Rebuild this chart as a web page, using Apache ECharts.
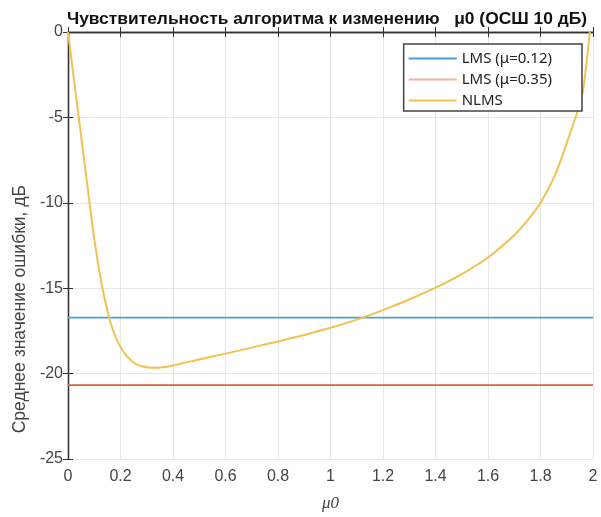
<!DOCTYPE html>
<html><head><meta charset="utf-8">
<script src="https://cdn.jsdelivr.net/npm/echarts@6/dist/echarts.min.js"></script>
<style>html,body{margin:0;padding:0;background:#fff}#c{width:601px;height:517px}</style>
</head><body><div id="c"></div>
<script>
var xTicks = [0, 0.2, 0.4, 0.6, 0.8, 1, 1.2, 1.4, 1.6, 1.8, 2];
var yTicks = [-25, -20, -15, -10, -5, 0];
var seriesNames = ['LMS (\u03bc=0.12)', 'LMS (\u03bc=0.35)', 'NLMS'];
var lmsRange = [0, 2];
var lms012 = -16.72;
var lms035 = -20.68;
var nlmsMu = [0, 0.02, 0.041, 0.06, 0.082, 0.1, 0.12, 0.14, 0.16, 0.18, 0.2, 0.22, 0.25, 0.28, 0.32, 0.36, 0.4, 0.5, 0.6, 0.7, 0.8, 0.9, 1.0, 1.1, 1.2, 1.3, 1.4, 1.5, 1.6, 1.7, 1.75, 1.8, 1.86, 1.918, 1.94, 1.96, 1.97, 1.98, 1.988];
var nlmsErr = [0, -2.45, -5, -7.3, -10, -12.1, -14.05, -15.65, -16.9, -17.8, -18.45, -18.9, -19.35, -19.57, -19.66, -19.63, -19.52, -19.17, -18.83, -18.48, -18.12, -17.74, -17.32, -16.84, -16.28, -15.66, -14.97, -14.17, -13.2, -11.9, -11.05, -10.0, -8.2, -5.7, -4.7, -3.6, -2.5, -1.2, 0];

var chart = echarts.init(document.getElementById('c'));
var gridL = 68, gridT = 32, gridR = 8, gridB = 53;
var tickFont = {fontFamily: 'Liberation Sans', fontSize: 16, color: '#444'};
function axisCommon(show) {
  return {
    axisLine: {show: true, lineStyle: {color: '#333', width: 1.3}},
    axisTick: {show: true, inside: true, length: 5, lineStyle: {color: '#333'}},
    splitLine: {show: show, lineStyle: {color: '#e6e6e6', width: 1}}
  };
}
function fmtX(v) {
  var r = Math.round(v * 10) / 10;
  return xTicks.indexOf(r) >= 0 ? String(r) : '';
}
function fmtY(v) {
  return yTicks.indexOf(v) >= 0 ? String(v) : '';
}
var option = {
  animation: false,
  backgroundColor: '#fff',
  title: {
    text: 'Чувствительность алгоритма к изменению   \u03bc0 (ОСШ 10 дБ)',
    left: 322, top: 6, textAlign: 'center',
    textStyle: {fontFamily: 'Liberation Sans', fontWeight: 'bold', fontSize: 17.4, color: '#111'}
  },
  grid: {left: gridL, top: gridT, right: gridR, bottom: gridB},
  legend: {
    orient: 'vertical', right: 19, top: 44,
    backgroundColor: '#fff', borderColor: '#444', borderWidth: 1.5,
    padding: [7, 30, 3, 5], itemGap: 6, itemWidth: 48, itemHeight: 2,
    icon: 'rect',
    textStyle: {fontFamily: 'Noto Sans', fontSize: 15, lineHeight: 15, color: '#222'},
    data: seriesNames
  },
  xAxis: [
    Object.assign({type: 'value', min: 0, max: 2, interval: 0.2, position: 'bottom',
      axisLabel: Object.assign({margin: 10, formatter: fmtX}, tickFont),
      name: '\u03bc0', nameLocation: 'middle', nameGap: 36,
      nameTextStyle: {fontFamily: 'Liberation Serif', fontStyle: 'italic', fontSize: 17, color: '#444'}
    }, axisCommon(true)),
    Object.assign({type: 'value', min: 0, max: 2, interval: 0.2, position: 'top', axisLabel: {show: false}}, axisCommon(false))
  ],
  yAxis: [
    Object.assign({type: 'value', min: -25, max: 0, interval: 5, position: 'left',
      axisLabel: Object.assign({margin: 5, formatter: fmtY}, tickFont)
    }, axisCommon(true)),
    Object.assign({type: 'value', min: -25, max: 0, interval: 5, position: 'right', axisLabel: {show: false}}, axisCommon(false))
  ],
  graphic: [{
    type: 'text', left: 11, top: 185,
    rotation: Math.PI / 2,
    style: {text: 'Среднее значение ошибки, дБ', fontFamily: 'Liberation Sans', fontSize: 17.5, fill: '#444', textAlign: 'center', textVerticalAlign: 'middle'}
  }],
  series: [
    {name: seriesNames[0], type: 'line', symbol: 'none', data: lmsRange.map(function (x) { return [x, lms012]; }), lineStyle: {color: '#4d9dd8', width: 1.8}, itemStyle: {color: '#4d9dd8'}},
    {name: seriesNames[1], type: 'line', symbol: 'none', data: lmsRange.map(function (x) { return [x, lms035]; }), lineStyle: {color: '#e0603a', width: 1.8}, itemStyle: {color: '#f2b49c'}},
    {name: seriesNames[2], type: 'line', symbol: 'none', smooth: 0.25, clip: true, data: nlmsMu.map(function (x, i) { return [x, nlmsErr[i]]; }), lineStyle: {color: '#f3c052', width: 2}, itemStyle: {color: '#f3c052'}}
  ]
};
chart.setOption(option);
</script></body></html>
